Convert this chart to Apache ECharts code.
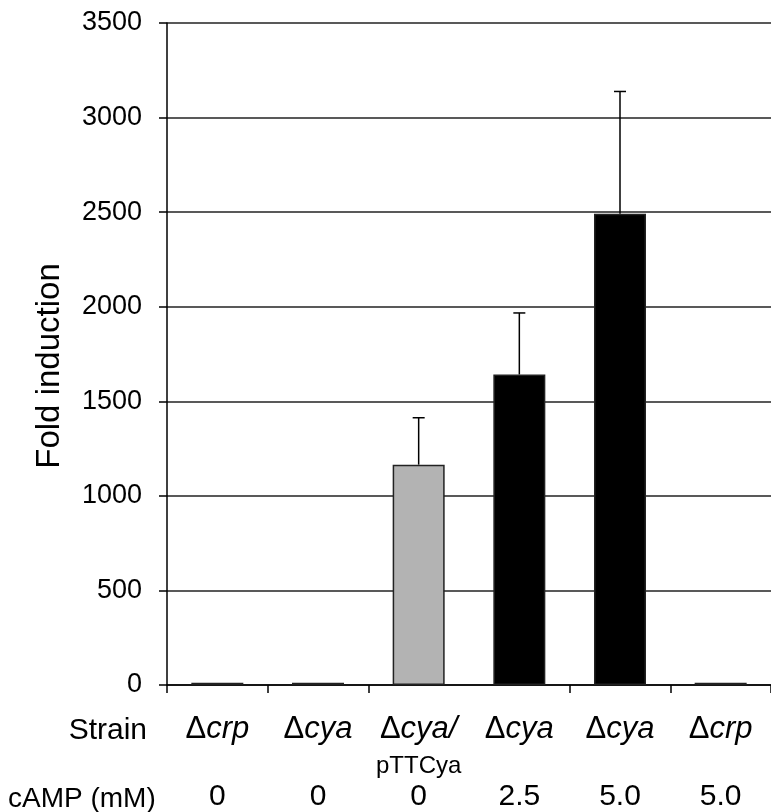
<!DOCTYPE html>
<html>
<head>
<meta charset="utf-8">
<script src="https://cdn.jsdelivr.net/npm/echarts@6/dist/echarts.min.js"></script>
<style>
html,body{margin:0;padding:0;background:#fff;}
#chart{width:771px;height:812px;}
</style>
</head>
<body>
<div id="chart"></div>
<script>
// ---- data ----
const strainNames = ['Δcrp', 'Δcya', 'Δcya/', 'Δcya', 'Δcya', 'Δcrp'];
const strainSub = ['', '', 'pTTCya', '', '', ''];
const campValues = ['0', '0', '0', '2.5', '5.0', '5.0'];
const foldInduction = [12, 12, 1165, 1642, 2492, 12];
const errorTop = [12, 12, 1413, 1967, 3138, 12];
const yTicks = [0, 500, 1000, 1500, 2000, 2500, 3000, 3500];

const FONT = '"Liberation Sans", Arial, sans-serif';
const chart = echarts.init(document.getElementById('chart'));

function strainLabel(value, index) {
  const d = value.charAt(0);
  const rest = value.slice(1);
  let s = '{d|' + d + '}{i|' + rest + '}';
  if (strainSub[index]) s += '\n{p|' + strainSub[index] + '}';
  return s;
}

const option = {
  animation: false,
  backgroundColor: '#fff',
  grid: { left: 167, right: -6, top: 23, bottom: 125, containLabel: false },
  xAxis: [
    {
      type: 'category',
      data: strainNames,
      boundaryGap: true,
      axisLine: { show: true, lineStyle: { color: '#000', width: 1.5 } },
      axisTick: { show: true, length: 8, lineStyle: { color: '#000', width: 1.5 },
                  interval: function (i) { return i !== 3; } },
      axisLabel: {
        interval: 0,
        margin: 28,
        formatter: strainLabel,
        rich: {
          d: { fontFamily: FONT, fontSize: 31, color: '#000', lineHeight: 32 },
          i: { fontFamily: FONT, fontSize: 31, fontStyle: 'italic', color: '#000', lineHeight: 32 },
          p: { fontFamily: FONT, fontSize: 24, color: '#000', lineHeight: 42 }
        }
      },
      splitLine: { show: false }
    },
    {
      type: 'category',
      data: campValues,
      position: 'bottom',
      boundaryGap: true,
      axisLine: { show: false },
      axisTick: { show: false },
      axisLabel: {
        interval: 0,
        margin: 97,
        fontFamily: FONT,
        fontSize: 30,
        lineHeight: 30,
        color: '#000'
      },
      splitLine: { show: false }
    }
  ],
  yAxis: {
    type: 'value',
    min: 0,
    max: 3500,
    interval: 500,
    axisLine: { show: true, lineStyle: { color: '#000', width: 1.5 } },
    axisTick: { show: true, length: 8, lineStyle: { color: '#000', width: 1.5 } },
    axisLabel: {
      margin: 25,
      fontFamily: FONT,
      fontSize: 27,
      color: '#000',
      formatter: function (v) { return yTicks.indexOf(v) >= 0 ? String(v) : ''; }
    },
    splitLine: { show: true, lineStyle: { color: '#222', width: 1.5 } }
  },
  series: [
    {
      type: 'bar',
      xAxisIndex: 0,
      data: foldInduction,
      barWidth: 52,
      itemStyle: {
        color: function (p) { return strainSub[p.dataIndex] ? '#b3b3b3' : '#000'; },
        borderColor: '#222',
        borderWidth: 1.5
      },
      z: 3
    },
    {
      type: 'custom',
      xAxisIndex: 0,
      data: foldInduction.map(function (v, i) { return [i, v, errorTop[i]]; }),
      z: 4,
      renderItem: function (params, api) {
        const i = api.value(0);
        const v = api.value(1);
        const t = api.value(2);
        if (t <= v) return null;
        const p0 = api.coord([i, v]);
        const p1 = api.coord([i, t]);
        const hw = 6;
        const style = { stroke: '#000', lineWidth: 1.5 };
        return {
          type: 'group',
          children: [
            { type: 'line', shape: { x1: p0[0], y1: p0[1], x2: p1[0], y2: p1[1] }, style: style },
            { type: 'line', shape: { x1: p1[0] - hw, y1: p1[1], x2: p1[0] + hw, y2: p1[1] }, style: style }
          ]
        };
      }
    }
  ],
  graphic: [
    { type: 'text', x: 50, y: 366, rotation: Math.PI / 2,
      style: { text: 'Fold induction', fontFamily: FONT, fontSize: 33, fill: '#000',
               align: 'center', verticalAlign: 'middle' } },
    { type: 'text', x: 147, y: 731,
      style: { text: 'Strain', fontFamily: FONT, fontSize: 30, fill: '#000',
               align: 'right', verticalAlign: 'middle' } },
    { type: 'text', x: 8, y: 799,
      style: { text: 'cAMP (mM)', fontFamily: FONT, fontSize: 28, fill: '#000',
               align: 'left', verticalAlign: 'middle' } }
  ]
};
chart.setOption(option);
</script>
</body>
</html>
